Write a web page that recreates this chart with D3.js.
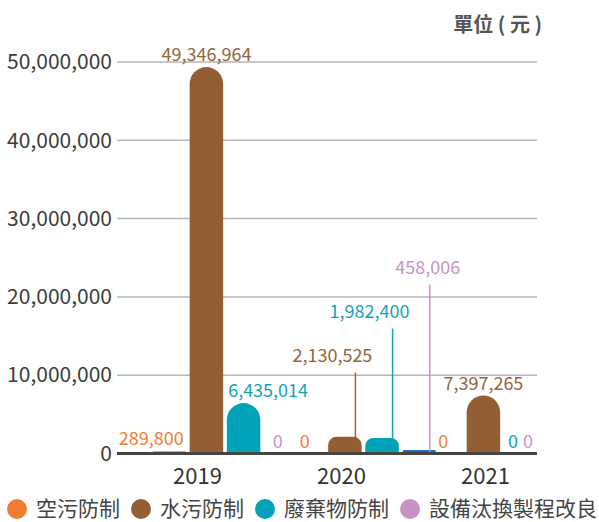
<!DOCTYPE html>
<html>
<head>
<meta charset="utf-8">
<script src="https://cdn.jsdelivr.net/npm/d3@7"></script>
<style>
  html, body { margin: 0; padding: 0; background: #fff; }
  svg { display: block; font-family: "Noto Sans CJK TC", "Noto Sans", sans-serif; }
</style>
</head>
<body>
<svg id="chart" width="599" height="522"></svg>
<script>
// ---- data ----
const years = ["2019", "2020", "2021"];
const seriesNames = ["空污防制", "水污防制", "廢棄物防制", "設備汰換製程改良"];
const airValues = [289800, 0, 0];
const waterValues = [49346964, 2130525, 7397265];
const wasteValues = [6435014, 1982400, 0];
const equipValues = [0, 458006, 0];
const yTicks = [0, 10000000, 20000000, 30000000, 40000000, 50000000];
const unitLabel = "單位 ( 元 )";

// ---- styles ----
const seriesColors = ["#ef7c32", "#935e33", "#02a3b8", "#c792c4"];
const labelColors = ["#f07d33", "#95653d", "#14a4b8", "#c893c6"];
// very thin bars render in their own tint
const thinBarFill = { "2019|空污防制": "#c07cbe", "2020|設備汰換製程改良": "#1c6fbf" };

const seriesValues = [airValues, waterValues, wasteValues, equipValues];
const rows = [];
years.forEach((yr, i) => {
  seriesNames.forEach((s, j) => {
    rows.push({ year: yr, series: s, si: j, value: seriesValues[j][i] });
  });
});

// ---- layout ----
const svg = d3.select("#chart");
const plot = { left: 117, right: 537, top: 62, bottom: 453.5 };

const y = d3.scaleLinear().domain([0, 50000000]).range([plot.bottom, plot.top]);
const groupX = d3.scalePoint().domain(years).range([plot.left + 108, plot.right - 35]);
const slotX = d3.scaleBand().domain(seriesNames).range([-72.5, 72.5]).paddingInner(0.1);
const yearAxisX = d3.scalePoint().domain(years).range([197, 485]);

// gridlines
svg.append("g").selectAll("line").data(yTicks.filter(d => d > 0)).join("line")
  .attr("x1", plot.left).attr("x2", plot.right)
  .attr("y1", d => y(d)).attr("y2", d => y(d))
  .attr("stroke", "#b5b5b5").attr("stroke-width", 1.5);

// y axis labels
const yAxis = d3.axisLeft(y).tickValues(yTicks).tickSize(0).tickPadding(0)
  .tickFormat(d3.format(","));
const yAxisG = svg.append("g").attr("transform", `translate(${plot.left - 5},0)`).call(yAxis);
yAxisG.select(".domain").remove();
yAxisG.selectAll("text").attr("font-size", 21).attr("fill", "#3d3d3d")
  .attr("font-family", "\"Noto Sans CJK TC\", sans-serif");

// bars with rounded tops
function topRounded(x, top, w, h) {
  const r = Math.min(w / 2, h / 2);
  return `M${x},${top + h}L${x},${top + r}A${r},${r} 0 0 1 ${x + r},${top}` +
    `L${x + w - r},${top}A${r},${r} 0 0 1 ${x + w},${top + r}L${x + w},${top + h}Z`;
}
const bw = slotX.bandwidth();
rows.forEach(d => {
  d.x = groupX(d.year) + slotX(d.series);
  d.cx = d.x + bw / 2;
  d.top = y(d.value);
  d.h = y(0) - d.top;
});
const positive = rows.filter(d => d.value > 0);

svg.append("g").selectAll("path").data(positive).join("path")
  .attr("d", d => topRounded(d.x, d.top, bw, d.h))
  .attr("fill", d => thinBarFill[d.year + "|" + d.series] || seriesColors[d.si]);

// baseline
svg.append("line").attr("x1", plot.left).attr("x2", plot.right)
  .attr("y1", y(0)).attr("y2", y(0)).attr("stroke", "#444").attr("stroke-width", 3);

// value labels
const fmt = d3.format(",");
const labelG = svg.append("g").attr("font-size", 18);

years.forEach(yr => {
  const bars = positive.filter(d => d.year === yr);
  const shortBars = bars.filter(d => d.h < 20);
  const callout = shortBars.length >= 2;

  bars.forEach(d => {
    const t = labelG.append("text").text(fmt(d.value)).attr("fill", labelColors[d.si])
      .attr("text-anchor", "middle");
    const w = t.node().getComputedTextLength();
    if (callout && d.h < 20) {
      // stacked callouts with leader lines for crowded short bars
      const k = shortBars.indexOf(d);
      const last = k === shortBars.length - 1;
      const base = y(0) - 92 - 44 * k;
      const lx = d.cx + 10.5;
      t.attr("x", last ? lx - 2 : lx - 23).attr("y", base);
      labelG.append("line").attr("x1", lx).attr("x2", lx)
        .attr("y1", base + 11).attr("y2", d.top + 2)
        .attr("stroke", labelColors[d.si]).attr("stroke-width", 1.5);
    } else {
      // above the bar, pushed clear of taller neighbours
      let cx = d.cx;
      const base = d.top - 6;
      bars.forEach(o => {
        if (o === d || o.top > base) return;
        if (o.x > d.x && cx + w / 2 > o.x - 6) cx = o.x - 6 - w / 2;
        if (o.x < d.x && cx - w / 2 < o.x + bw + 5) cx = o.x + bw + 5 + w / 2;
      });
      t.attr("x", cx).attr("y", base);
    }
  });

  // zero labels, kept inside the plot from right to left
  const zeros = rows.filter(d => d.year === yr && d.value === 0).reverse();
  let maxRight = plot.right - 4;
  zeros.forEach(d => {
    const t = labelG.append("text").text("0").attr("fill", labelColors[d.si])
      .attr("text-anchor", "middle").attr("y", y(0) - 5.5);
    const w = t.node().getComputedTextLength();
    const cx = Math.min(d.cx - 3, maxRight - w / 2);
    t.attr("x", cx);
    maxRight = cx - w / 2 - 5;
  });
});

// year labels
const xAxis = d3.axisBottom(yearAxisX).tickSize(0).tickPadding(0);
const xAxisG = svg.append("g").attr("transform", `translate(0,${y(0) + 30})`).call(xAxis);
xAxisG.select(".domain").remove();
xAxisG.selectAll("text").attr("font-size", 22).attr("fill", "#333")
  .attr("dy", 0).attr("font-family", "\"Noto Sans CJK TC\", sans-serif");

// unit label
svg.append("text").text(unitLabel).attr("x", 542).attr("y", 32)
  .attr("text-anchor", "end").attr("font-size", 20).attr("font-weight", "bold")
  .attr("fill", "#555");

// legend
const legendG = svg.append("g").attr("font-size", 21).attr("fill", "#444");
let lx = 7;
seriesNames.forEach((s, i) => {
  legendG.append("circle").attr("cx", lx + 10).attr("cy", 509).attr("r", 10)
    .attr("fill", seriesColors[i]);
  const t = legendG.append("text").text(s).attr("x", lx + 29).attr("y", 516);
  lx += 29 + t.node().getComputedTextLength() + 11;
});
</script>
</body>
</html>
